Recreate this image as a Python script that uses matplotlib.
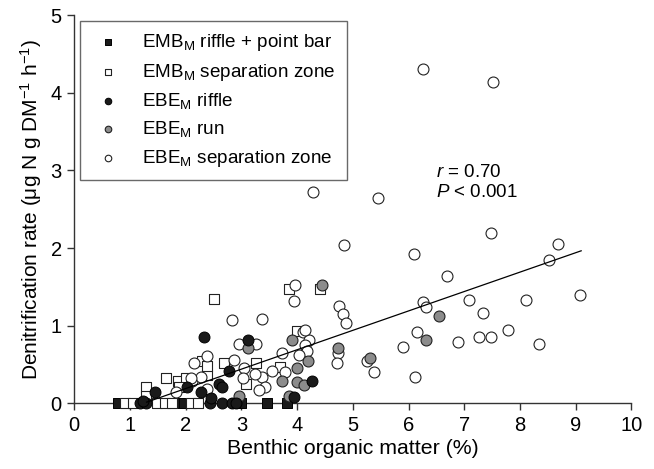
import matplotlib
matplotlib.use("Agg")
import matplotlib.pyplot as plt
import numpy as np

plt.rcParams['font.family'] = ['Liberation Sans', 'DejaVu Sans']
plt.rcParams['mathtext.fontset'] = 'custom'
plt.rcParams['mathtext.rm'] = 'Liberation Sans'
plt.rcParams['mathtext.it'] = 'Liberation Sans:italic'

# EMB_M riffle + point bar (black squares)
emb_rpb_x = [0.79, 1.88, 1.97, 2.88, 3.00, 3.46, 3.82]
emb_rpb_y = [0.00, 0.00, 0.00, 0.00, 0.00, 0.00, 0.00]

# EMB_M separation zone (open squares)
emb_sep_x = [0.91, 1.05, 1.48, 1.63, 1.75, 2.10, 2.22, 1.29, 1.29, 1.65, 1.87,
             2.00, 1.88, 2.38, 2.30, 2.38, 2.51, 2.68, 3.26, 3.08, 3.69, 3.86,
             4.42, 4.00]
emb_sep_y = [0.00, 0.00, 0.00, 0.00, 0.00, 0.00, 0.00, 0.21, 0.10, 0.32, 0.29,
             0.32, 0.21, 0.36, 0.55, 0.48, 1.34, 0.52, 0.52, 0.25, 0.47, 1.47,
             1.47, 0.93]

# EBE_M riffle (black circles)
ebe_rif_x = [1.18, 1.29, 2.43, 2.65, 2.83, 2.90, 1.44, 2.03, 2.27, 2.45, 2.33,
             3.11, 2.78, 2.60, 2.66, 4.27, 3.94, 1.23]
ebe_rif_y = [0.00, 0.00, 0.00, 0.00, 0.00, 0.00, 0.14, 0.21, 0.15, 0.07, 0.85,
             0.81, 0.41, 0.25, 0.21, 0.29, 0.08, 0.03]

# EBE_M run (grey circles)
ebe_run_x = [3.11, 2.96, 3.91, 4.45, 6.55, 6.31, 5.31, 4.73, 4.20, 4.00, 3.73,
             4.00, 4.12, 3.85]
ebe_run_y = [0.71, 0.09, 0.82, 1.52, 1.13, 0.82, 0.59, 0.71, 0.55, 0.46, 0.29,
             0.27, 0.23, 0.10]

# EBE_M separation zone (open circles)
ebe_sep_x = [6.26, 7.51, 4.29, 5.46, 7.48, 4.85, 8.69, 6.09, 8.53, 6.70, 3.97,
             9.07, 6.26, 7.08, 8.11, 6.31, 3.94, 4.76, 4.83, 4.88, 7.34, 6.89,
             7.26, 7.48, 7.78, 8.35, 6.15, 5.90, 6.12, 5.38, 5.25, 4.74, 4.72,
             3.37, 2.84, 4.11, 4.22, 4.15, 4.18, 3.73, 4.04, 3.79, 3.55, 3.37,
             3.43, 2.95, 3.26, 2.39, 2.15, 2.86, 3.04, 3.24, 3.02, 2.12, 2.28,
             1.82, 2.38, 3.31, 2.10, 4.14]
ebe_sep_y = [4.31, 4.14, 2.72, 2.65, 2.19, 2.04, 2.05, 1.92, 1.85, 1.64, 1.52,
             1.40, 1.31, 1.33, 1.33, 1.24, 1.32, 1.25, 1.15, 1.03, 1.16, 0.79,
             0.86, 0.85, 0.94, 0.77, 0.92, 0.73, 0.34, 0.40, 0.55, 0.65, 0.52,
             1.09, 1.07, 0.92, 0.81, 0.75, 0.68, 0.65, 0.62, 0.40, 0.42, 0.34,
             0.21, 0.77, 0.77, 0.61, 0.52, 0.56, 0.45, 0.38, 0.32, 0.29, 0.34,
             0.15, 0.18, 0.17, 0.33, 0.94]

# regression line
fit_slope = 0.25
fit_icpt = -0.31
fit_range = [1.30, 9.10]

fig = plt.figure(figsize=(6.54, 4.69), dpi=100)
ax = fig.add_axes([0.1136, 0.1401, 0.8517, 0.8273])

ms = 62
kw = dict(clip_on=False)
h1 = ax.scatter(emb_rpb_x, emb_rpb_y, marker='s', s=ms, c='#1a1a1a', edgecolors='black', linewidths=0.7, zorder=3, **kw)
h2 = ax.scatter(emb_sep_x, emb_sep_y, marker='s', s=ms, c='white', edgecolors='#222222', linewidths=0.8, zorder=3, **kw)
h5 = ax.scatter(ebe_sep_x, ebe_sep_y, marker='o', s=ms, c='white', edgecolors='#222222', linewidths=0.8, zorder=4, **kw)
h4 = ax.scatter(ebe_run_x, ebe_run_y, marker='o', s=ms, c='#8c8c8c', edgecolors='#222222', linewidths=0.8, zorder=5, **kw)
h3 = ax.scatter(ebe_rif_x, ebe_rif_y, marker='o', s=ms, c='#1a1a1a', edgecolors='black', linewidths=0.7, zorder=6, **kw)

xl = np.array(fit_range)
ax.plot(xl, fit_slope * xl + fit_icpt, color='black', lw=0.9, zorder=7)

ax.text(6.5, 2.98, r'$r$ = 0.70', fontsize=13.5, va='center')
ax.text(6.5, 2.71, r'$P$ < 0.001', fontsize=13.5, va='center')

ax.set_xlim(0, 10)
ax.set_ylim(0, 5)
ax.set_xticks(range(0, 11))
ax.set_yticks(range(0, 6))
for s in ['top', 'right']:
    ax.spines[s].set_visible(False)
for s in ['left', 'bottom']:
    ax.spines[s].set_color('#333333')
    ax.spines[s].set_linewidth(1.0)
ax.tick_params(direction='out', length=5, width=1, color='#333333', labelsize=14.5, pad=4)
ax.set_xlabel('Benthic organic matter (%)', fontsize=15.3, labelpad=3)
ax.set_ylabel(r'Denitrification rate (μg N g DM$^{-1}$ h$^{-1}$)', fontsize=15, labelpad=5)

labels = [r'EMB$_{\mathrm{M}}$ riffle + point bar', r'EMB$_{\mathrm{M}}$ separation zone',
          r'EBE$_{\mathrm{M}}$ riffle', r'EBE$_{\mathrm{M}}$ run', r'EBE$_{\mathrm{M}}$ separation zone']
leg = ax.legend([h1, h2, h3, h4, h5], labels, loc='upper left', bbox_to_anchor=(0.01, 0.985),
                borderaxespad=0, fancybox=False, fontsize=13.6, markerscale=0.6,
                handletextpad=0.9, labelspacing=0.44, borderpad=0.6, handlelength=1.8)
leg.get_frame().set_edgecolor('#444444')
leg.get_frame().set_linewidth(1.0)

fig.savefig('out.png', dpi=100)
